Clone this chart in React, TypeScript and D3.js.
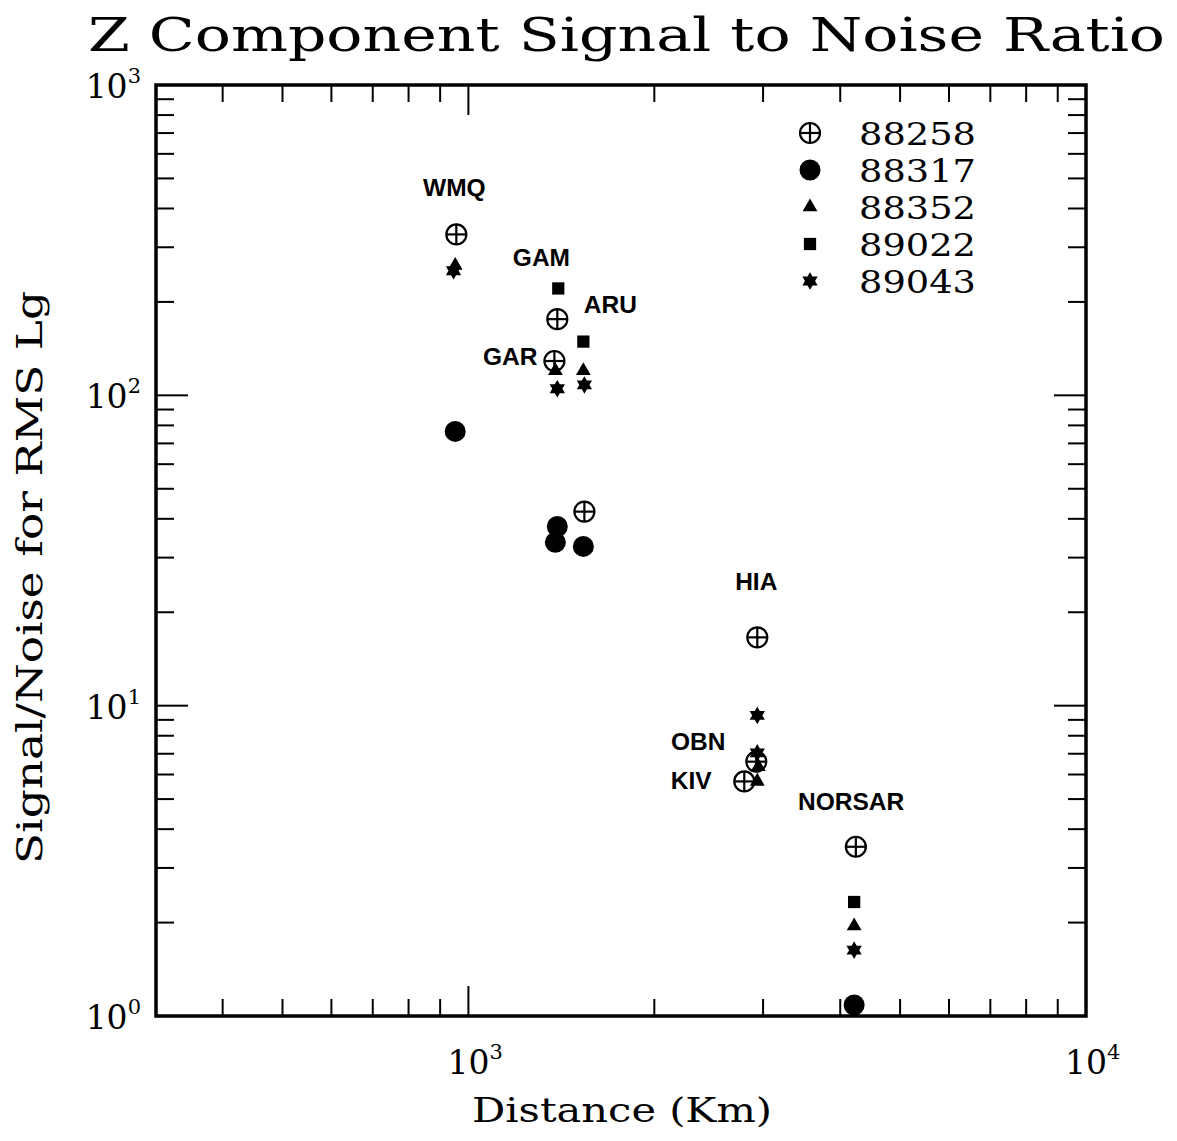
import React from "react";
import * as d3 from "d3";

const W = 1177;
const H = 1141;

const title = "Z Component Signal to Noise Ratio";
const xLabel = "Distance (Km)";
const yLabel = "Signal/Noise for RMS Lg";

const events = ["88258", "88317", "88352", "89022", "89043"];
const eventSymbols = ["circlePlus", "dot", "triangle", "square", "star"];

// [station, distance km, S/N]
const ev88258: [string, number, number][] = [
  ["WMQ", 956, 330],
  ["GAM", 1393, 176],
  ["GAR", 1378, 129],
  ["ARU", 1541, 42.2],
  ["HIA", 2936, 16.6],
  ["OBN", 2925, 6.6],
  ["KIV", 2797, 5.7],
  ["NORSAR", 4240, 3.51],
];
const ev88317: [string, number, number][] = [
  ["WMQ", 952, 76.5],
  ["GAM", 1393, 37.8],
  ["GAR", 1383, 33.6],
  ["ARU", 1535, 32.6],
  ["NORSAR", 4213, 1.085],
];
const ev88352: [string, number, number][] = [
  ["WMQ", 952, 262],
  ["GAR", 1383, 120],
  ["ARU", 1535, 120],
  ["OBN", 2947, 6.36],
  ["KIV", 2936, 5.7],
  ["NORSAR", 4213, 1.95],
];
const ev89022: [string, number, number][] = [
  ["GAM", 1398, 221],
  ["ARU", 1535, 149],
  ["NORSAR", 4213, 2.33],
];
const ev89043: [string, number, number][] = [
  ["WMQ", 946, 252],
  ["GAR", 1393, 105],
  ["ARU", 1541, 108],
  ["HIA", 2936, 9.3],
  ["OBN", 2936, 7.05],
  ["NORSAR", 4213, 1.63],
];
const seriesData = [ev88258, ev88317, ev88352, ev89022, ev89043];

// station label anchors in data space [name, distance, S/N]
const stationLabels: [string, number, number][] = [
  ["WMQ", 949, 469],
  ["GAM", 1313, 279],
  ["ARU", 1698, 197],
  ["GAR", 1169, 134],
  ["HIA", 2925, 25.3],
  ["OBN", 2356, 7.71],
  ["KIV", 2295, 5.77],
  ["NORSAR", 4166, 4.94],
];

const xDomain = [312, 10000];
const yDomain = [1, 1000];
const xTickLabels = [1000, 10000];
const yTickLabels = [1, 10, 100, 1000];

const SERIF = "'DejaVu Serif', 'Liberation Serif', serif";
const SANS = "'Liberation Sans', Arial, sans-serif";

function hexagram(r: number): string {
  const pts: [number, number][] = [];
  for (let i = 0; i < 12; i++) {
    const a = (-90 + i * 30) * Math.PI / 180;
    const rr = i % 2 === 0 ? r : r / Math.sqrt(3);
    pts.push([rr * Math.cos(a), rr * Math.sin(a)]);
  }
  return "M" + pts.map(p => p[0].toFixed(2) + "," + p[1].toFixed(2)).join("L") + "Z";
}

function Marker({ kind, cx, cy }: { kind: string; cx: number; cy: number }) {
  const t = `translate(${cx},${cy})`;
  if (kind === "circlePlus") {
    const r = 10;
    return (
      <g transform={t} stroke="#000" strokeWidth={2.2} fill="none">
        <circle r={r} />
        <line x1={-r} x2={r} y1={0} y2={0} />
        <line x1={0} x2={0} y1={-r} y2={r} />
      </g>
    );
  }
  if (kind === "dot") return <circle cx={cx} cy={cy} r={10.5} fill="#000" />;
  if (kind === "triangle")
    return <path transform={t} d={d3.symbol(d3.symbolTriangle, 95)() as string} fill="#000" />;
  if (kind === "square")
    return <path transform={t} d={d3.symbol(d3.symbolSquare, 150)() as string} fill="#000" />;
  return <path transform={t} d={hexagram(8.8)} fill="#000" />;
}

export default function App() {
  const x = d3.scaleLog().domain(xDomain).range([156, 1086]);
  const y = d3.scaleLog().domain(yDomain).range([1016, 85]);
  const [x0, x1] = x.range();
  const [y0, y1] = y.range();

  const isPow10 = (v: number) => Math.abs(Math.log10(v) - Math.round(Math.log10(v))) < 1e-9;
  const xTicks = x.ticks().filter(v => v > xDomain[0] && v < xDomain[1]);
  const yTicks = y.ticks().filter(v => v > yDomain[0] && v < yDomain[1]);

  const drawOrder = [1, 2, 3, 4, 0];
  const legendY0 = 133;
  const legendStep = 37;

  return (
    <svg width={W} height={H} style={{ position: "absolute", left: 0, top: 0, background: "#fff" }}
      xmlns="http://www.w3.org/2000/svg">
      <rect width={W} height={H} fill="#fff" />
      {/* title */}
      <text x={88} y={51} fontFamily={SERIF} fontSize={47} textLength={1077} lengthAdjust="spacingAndGlyphs"
        fill="#000">{title}</text>

      {/* ticks */}
      <g stroke="#000" strokeWidth={2}>
        {xTicks.map(v => {
          const len = isPow10(v) ? 30 : 17;
          return (
            <g key={"xt" + v}>
              <line x1={x(v)} x2={x(v)} y1={y0} y2={y0 - len} />
              <line x1={x(v)} x2={x(v)} y1={y1} y2={y1 + len} />
            </g>
          );
        })}
        {yTicks.map(v => {
          const len = isPow10(v) ? 32 : 18;
          return (
            <g key={"yt" + v}>
              <line x1={x0} x2={x0 + len} y1={y(v)} y2={y(v)} />
              <line x1={x1} x2={x1 - len} y1={y(v)} y2={y(v)} />
            </g>
          );
        })}
      </g>
      {/* frame */}
      <rect x={x0} y={y1} width={x1 - x0} height={y0 - y1} fill="none" stroke="#000" strokeWidth={3.5} />

      {/* tick labels */}
      <g fontFamily={SERIF} fill="#000">
        {yTickLabels.map(v => (
          <text key={"yl" + v} x={141} y={y(v) + 13} textAnchor="end" fontSize={33}>
            10<tspan fontSize={21} dy={-15}>{Math.round(Math.log10(v))}</tspan>
          </text>
        ))}
        {xTickLabels.map(v => (
          <text key={"xl" + v} x={x(v) - 21} y={1074} fontSize={33}>
            10<tspan fontSize={21} dy={-15}>{Math.round(Math.log10(v))}</tspan>
          </text>
        ))}
      </g>

      {/* axis labels */}
      <text x={472} y={1122} fontFamily={SERIF} fontSize={34} textLength={300} lengthAdjust="spacingAndGlyphs"
        fill="#000">{xLabel}</text>
      <text transform={`translate(42,864) rotate(-90)`} fontFamily={SERIF} textLength={573}
        lengthAdjust="spacingAndGlyphs" fontSize={35} fill="#000">{yLabel}</text>

      {/* station labels */}
      <g fontFamily={SANS} fontWeight="bold" fontSize={24.5} fill="#000" textAnchor="middle">
        {stationLabels.map(([name, d, v]) => (
          <text key={name} x={x(d)} y={y(v) + 9}>{name}</text>
        ))}
      </g>

      {/* data */}
      {drawOrder.map(si => (
        <g key={"s" + si}>
          {seriesData[si].map(([st, d, v], i) => (
            <Marker key={st + i} kind={eventSymbols[si]} cx={x(d)} cy={y(v)} />
          ))}
        </g>
      ))}

      {/* legend */}
      {events.map((e, i) => (
        <g key={e}>
          <Marker kind={eventSymbols[i]} cx={810} cy={legendY0 + i * legendStep} />
          <text x={859} y={legendY0 + i * legendStep + 12} fontFamily={SERIF} fontSize={32}
            textLength={117} lengthAdjust="spacingAndGlyphs" fill="#000">{e}</text>
        </g>
      ))}
    </svg>
  );
}
